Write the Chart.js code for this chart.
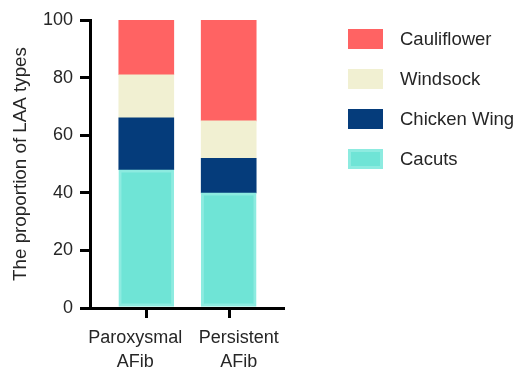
<!DOCTYPE html>
<html lang="en">
<head>
  <meta charset="UTF-8" />
  <title>LAA types</title>
  <script src="https://cdn.jsdelivr.net/npm/chart.js"></script>
  <style>
    html, body { margin: 0; padding: 0; background: #fff; }
    #wrap { width: 518px; height: 369px; }
  </style>
</head>
<body>
  <div id="wrap"><canvas id="grafik"></canvas></div>

  <script>
    // data
    const groups = [["Paroxysmal", "AFib"], ["Persistent", "AFib"]];
    const types = ["Cauliflower", "Windsock", "Chicken Wing", "Cacuts"];
    const cacuts = [48, 40];
    const chickenWing = [18, 12];
    const windsock = [15, 13];
    const cauliflower = [19, 35];
    const yTicks = [0, 20, 40, 60, 80, 100];
    const xTicks = [0, 1];
    // the labels sit a bit off their tick marks in the original
    const labelPos = [-0.134, 1.122];

    const warna = {
      "Cauliflower": "#FF6363",
      "Windsock": "#F1F0D2",
      "Chicken Wing": "#053C7B",
      "Cacuts": "#6FE4D6"
    };
    const FONT = "'Liberation Sans', Arial, sans-serif";
    const TEKS = "#262626";

    function seri(label, values) {
      return {
        label,
        data: values.map((v, i) => ({ x: i, y: v })),
        backgroundColor: warna[label],
        borderColor: label === "Cacuts" ? "#8DEBE0" : warna[label],
        borderWidth: label === "Cacuts" ? 3 : 0,
        borderSkipped: false,
        barThickness: 55
      };
    }

    // bottom to top
    const datasets = [
      seri("Cacuts", cacuts),
      seri("Chicken Wing", chickenWing),
      seri("Windsock", windsock),
      seri("Cauliflower", cauliflower)
    ];

    // tick marks under the x axis, placed by the x scale
    const tandaX = {
      id: "tandaX",
      afterDraw(chart) {
        const sx = chart.scales.x;
        const ctx = chart.ctx;
        ctx.save();
        ctx.strokeStyle = "#000";
        ctx.lineWidth = 3;
        xTicks.forEach(v => {
          const px = Math.round(sx.getPixelForValue(v)) + 0.5;
          ctx.beginPath();
          ctx.moveTo(px, chart.chartArea.bottom);
          ctx.lineTo(px, chart.chartArea.bottom + 10);
          ctx.stroke();
        });
        ctx.restore();
      }
    };

    const legendaKanan = {
      id: "legendaKanan",
      afterDraw(chart) {
        const ctx = chart.ctx;
        ctx.save();
        types.forEach((t, i) => {
          const y = 29 + i * 40;
          ctx.fillStyle = warna[t];
          ctx.fillRect(348, y, 35, 20);
          if (t === "Cacuts") {
            ctx.strokeStyle = "#8DEBE0";
            ctx.lineWidth = 3;
            ctx.strokeRect(349.5, y + 1.5, 32, 17);
          }
          ctx.fillStyle = TEKS;
          ctx.font = "18.5px " + FONT;
          ctx.textBaseline = "middle";
          ctx.fillText(t, 400, y + 11);
        });
        ctx.restore();
      }
    };

    new Chart(document.getElementById("grafik"), {
      type: "bar",
      data: { datasets },
      plugins: [tandaX, legendaKanan],
      options: {
        responsive: true,
        maintainAspectRatio: false,
        animation: false,
        layout: { padding: { top: 20, right: 234, bottom: 0, left: 0 } },
        plugins: { legend: { display: false }, tooltip: { enabled: false } },
        scales: {
          x: {
            type: "linear",
            min: -0.683,
            max: 1.671,
            offset: false,
            stacked: true,
            weight: 0,
            afterBuildTicks: s => { s.ticks = xTicks.map(v => ({ value: v })); },
            afterFit: s => { s.height = 10; },
            ticks: { display: false },
            grid: { display: false },
            border: { display: true, color: "#000", width: 3 }
          },
          xLabel: {
            type: "linear",
            position: "bottom",
            min: -0.683,
            max: 1.671,
            offset: false,
            weight: 1,
            afterBuildTicks: s => { s.ticks = labelPos.map(v => ({ value: v })); },
            afterFit: s => { s.height = 51; },
            ticks: {
              callback: (v, i) => groups[i],
              color: TEKS,
              font: { family: FONT, size: 18, lineHeight: 1.28 },
              padding: 9,
              maxRotation: 0,
              autoSkip: false
            },
            grid: { display: false, drawTicks: false },
            border: { display: false }
          },
          y: {
            stacked: true,
            min: 0,
            max: 100,
            afterBuildTicks: s => { s.ticks = yTicks.map(v => ({ value: v })); },
            afterFit: s => { s.width = 90; },
            ticks: {
              color: TEKS,
              font: { family: FONT, size: 18 },
              padding: 7
            },
            grid: { drawOnChartArea: false, color: "#000", lineWidth: 3, tickLength: 10 },
            border: { color: "#000", width: 3 },
            title: {
              display: true,
              text: "The proportion of LAA types",
              color: TEKS,
              font: { family: FONT, size: 18.8 },
              padding: { top: 10, bottom: 0 }
            }
          }
        }
      }
    });
  </script>
</body>
</html>
